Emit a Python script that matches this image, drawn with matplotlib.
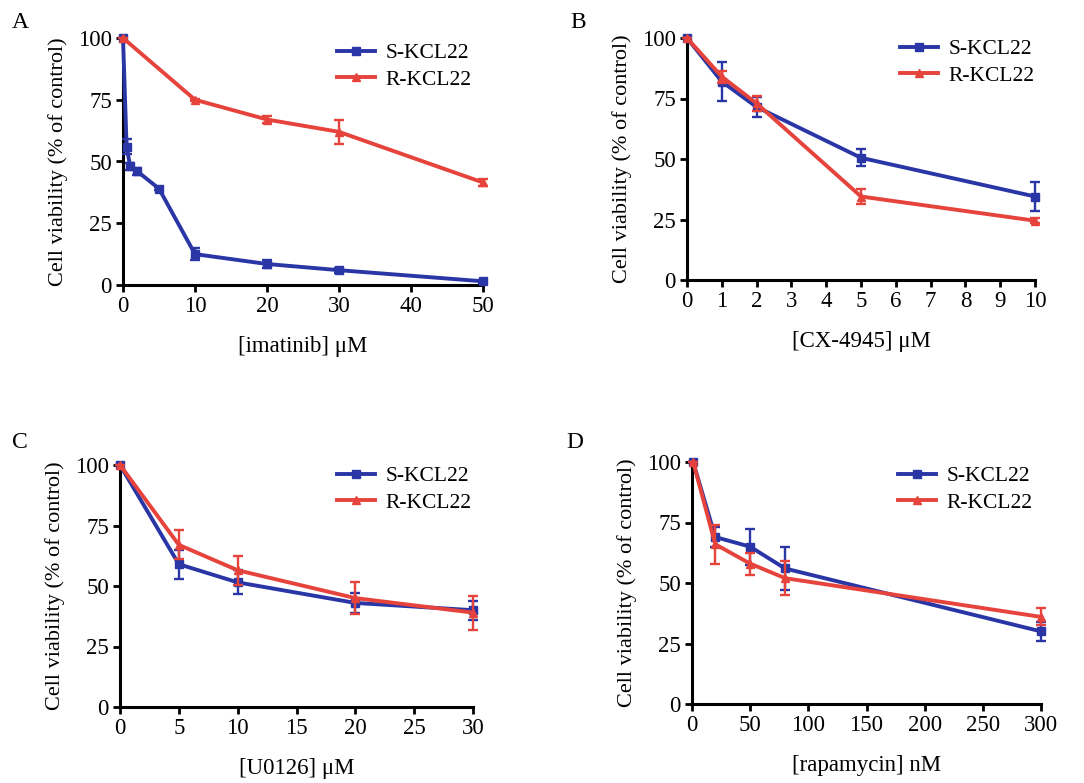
import matplotlib
matplotlib.use("Agg")
import matplotlib.pyplot as plt
from matplotlib.lines import Line2D

plt.rcParams['font.family'] = ['Liberation Serif', 'DejaVu Serif']
plt.rcParams['font.size'] = 16

BLUE = '#2A36A6'
RED = '#E5433B'

# ---------------- data ----------------
# Panel A: imatinib (uM)
a_s_x = [0, 0.5, 1, 2, 5, 10, 20, 30, 50]
a_s_y = [100, 56, 48, 46, 39, 12.5, 8.5, 6, 1.5]
a_s_e = [0, 3, 1.5, 1.5, 0.5, 2.5, 1.5, 1, 0.5]
a_r_x = [0, 10, 20, 30, 50]
a_r_y = [100, 75, 67, 62, 41.5]
a_r_e = [0, 0.5, 1.5, 5, 1.5]

# Panel B: CX-4945 (uM)
b_x = [0, 1, 2, 5, 10]
b_s_y = [100, 82, 71.5, 50.5, 34.5]
b_s_e = [0, 8, 4, 3.5, 6]
b_r_y = [100, 84, 73, 34.5, 24.5]
b_r_e = [0, 2.5, 3, 3, 1]

# Panel C: U0126 (uM)
c_x = [0, 5, 10, 20, 30]
c_s_y = [100, 59, 51.5, 43, 40]
c_s_e = [0, 6, 5, 4, 4]
c_r_y = [100, 67, 56.5, 45, 39]
c_r_e = [0, 6, 6, 6.5, 7]

# Panel D: rapamycin (nM)
d_x = [1, 20, 50, 80, 300]
d_s_y = [100, 69, 65, 56, 30]
d_s_e = [0, 4, 7.5, 9, 4]
d_r_y = [100, 66, 58, 52, 36]
d_r_e = [0, 8, 4.5, 7, 3.5]

series_labels = ['S-KCL22', 'R-KCL22']
y_ticks = [0, 25, 50, 75, 100]
ylabel = 'Cell viability (% of control)'

panels = [
    dict(letter='A', xlabel='[imatinib] μM', xlim=(0, 50), xticks=[0, 10, 20, 30, 40, 50],
         s=(a_s_x, a_s_y, a_s_e), r=(a_r_x, a_r_y, a_r_e),
         box=(123, 483, 38, 285), letter_pos=(20, 23), leg=(337, 57)),
    dict(letter='B', xlabel='[CX-4945] μM', xlim=(0, 10), xticks=list(range(0, 11)),
         s=(b_x, b_s_y, b_s_e), r=(b_x, b_r_y, b_r_e),
         box=(687, 1035, 38, 280), letter_pos=(578, 22), leg=(900, 53)),
    dict(letter='C', xlabel='[U0126] μM', xlim=(0, 30), xticks=[0, 5, 10, 15, 20, 25, 30],
         s=(c_x, c_s_y, c_s_e), r=(c_x, c_r_y, c_r_e),
         box=(120, 473, 465, 707), letter_pos=(20, 442), leg=(337, 480)),
    dict(letter='D', xlabel='[rapamycin] nM', xlim=(0, 300), xticks=[0, 50, 100, 150, 200, 250, 300],
         s=(d_x, d_s_y, d_s_e), r=(d_x, d_r_y, d_r_e),
         box=(692, 1041, 462, 704), letter_pos=(575, 443), leg=(898, 480)),
]

W, H = 1084, 783
fig = plt.figure(figsize=(W / 100, H / 100), dpi=100)

for p in panels:
    l, r, t, b = p['box']
    ax = fig.add_axes([l / W, 1 - b / H, (r - l) / W, (b - t) / H])
    sx, sy, se = p['s']
    rx, ry, re_ = p['r']
    ax.errorbar(sx, sy, yerr=se, color=BLUE, lw=2.8, marker='s', ms=5.5,
                capsize=3.5, elinewidth=1.7, capthick=1.7, clip_on=False, zorder=3)
    ax.errorbar(rx, ry, yerr=re_, color=RED, lw=2.8, marker='^', ms=5.5,
                capsize=3.5, elinewidth=1.7, capthick=1.7, clip_on=False, zorder=4)
    ax.set_xlim(*p['xlim'])
    ax.set_ylim(0, 100)
    ax.set_xticks(p['xticks'])
    ax.set_yticks(y_ticks)
    for s in ['top', 'right']:
        ax.spines[s].set_visible(False)
    for s in ['left', 'bottom']:
        ax.spines[s].set_linewidth(2.2)
        ax.spines[s].set_color('black')
    ax.tick_params(axis='both', direction='out', length=5, width=2, labelsize=16.5, pad=3)
    ax.set_ylabel(ylabel, fontsize=16)
    ax.set_xlabel(p['xlabel'], fontsize=16.5)
    ax.yaxis.set_label_coords(-55 / (r - l), 0.5)
    ax.xaxis.set_label_coords(0.5, -51 / (b - t))
    fig.text(p['letter_pos'][0] / W, 1 - p['letter_pos'][1] / H, p['letter'],
             fontsize=17, ha='center', va='center')
    handles = [Line2D([], [], color=BLUE, lw=2.8, marker='s', ms=5.5),
               Line2D([], [], color=RED, lw=2.8, marker='^', ms=5.5)]
    lx, ly = p['leg']
    ax.legend(handles, series_labels, loc='upper left', frameon=False,
              bbox_to_anchor=(lx / W, 1 - (ly - 14) / H), bbox_transform=fig.transFigure,
              borderpad=0, borderaxespad=0, handlelength=1.75, handletextpad=0.5,
              labelspacing=0.3, fontsize=15.5)

fig.savefig('out.png', dpi=100, facecolor='white')
